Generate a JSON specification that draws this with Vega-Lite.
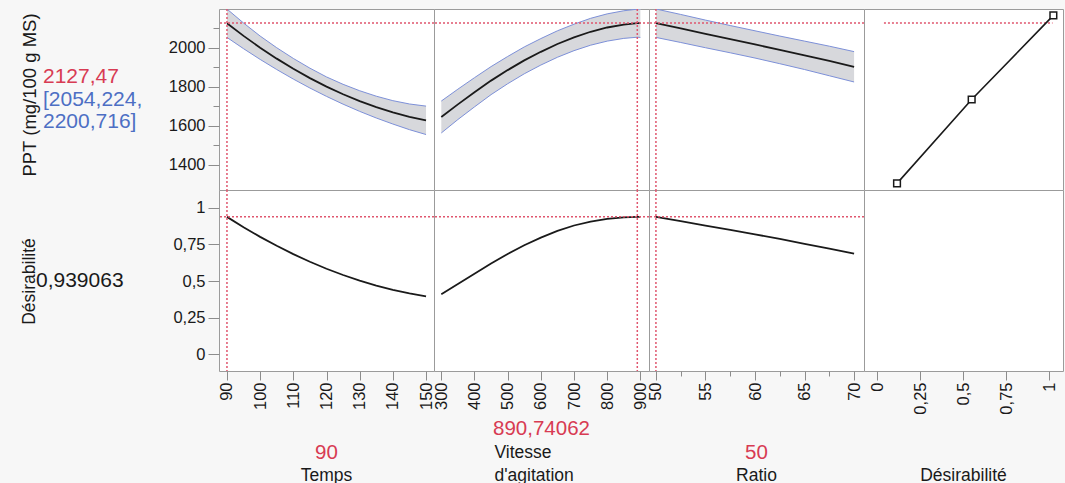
{
"$schema": "https://vega.github.io/schema/vega-lite/v6.json",
"background": "#f7f7f7",
"padding": {"left": 19, "top": 7, "right": 3, "bottom": 0},
"config": {
  "font": "Liberation Sans",
  "view": {"stroke": null},
  "axis": {"labelFont": "Liberation Sans", "labelFontSize": 16.5, "labelColor": "#1a1a1a", "tickColor": "#8c8c8c", "domain": false, "grid": false, "titleFont": "Liberation Sans", "titleFontWeight": "normal", "titleFontSize": 17.5, "titleColor": "#1a1a1a"},
  "axisX": {"labelAngle": 270, "tickSize": 9, "labelPadding": 2},
  "axisY": {"tickSize": 11, "labelPadding": 3}
},
"datasets": {
  "temps": [
    {"x":90,"ppt":2127,"lo":2054,"hi":2200,"d":0.939},
    {"x":95,"ppt":2062,"lo":1996,"hi":2128,"d":0.868},
    {"x":100,"ppt":2001,"lo":1941,"hi":2061,"d":0.802},
    {"x":105,"ppt":1945,"lo":1889,"hi":2001,"d":0.741},
    {"x":110,"ppt":1893,"lo":1840,"hi":1946,"d":0.684},
    {"x":115,"ppt":1845,"lo":1794,"hi":1896,"d":0.632},
    {"x":120,"ppt":1801,"lo":1751,"hi":1851,"d":0.584},
    {"x":125,"ppt":1762,"lo":1711,"hi":1813,"d":0.541},
    {"x":130,"ppt":1727,"lo":1674,"hi":1780,"d":0.503},
    {"x":135,"ppt":1696,"lo":1640,"hi":1752,"d":0.469},
    {"x":140,"ppt":1669,"lo":1609,"hi":1729,"d":0.44},
    {"x":145,"ppt":1646,"lo":1580,"hi":1712,"d":0.415},
    {"x":150,"ppt":1628,"lo":1555,"hi":1701,"d":0.395}
  ],
  "vitesse": [
    {"x":300,"ppt":1645,"lo":1563,"hi":1727,"d":0.41},
    {"x":350,"ppt":1710,"lo":1632,"hi":1788,"d":0.48},
    {"x":400,"ppt":1772,"lo":1697,"hi":1847,"d":0.55},
    {"x":450,"ppt":1832,"lo":1760,"hi":1904,"d":0.62},
    {"x":500,"ppt":1886,"lo":1816,"hi":1956,"d":0.685},
    {"x":550,"ppt":1936,"lo":1867,"hi":2005,"d":0.745},
    {"x":600,"ppt":1980,"lo":1912,"hi":2048,"d":0.797},
    {"x":650,"ppt":2020,"lo":1952,"hi":2088,"d":0.843},
    {"x":700,"ppt":2054,"lo":1986,"hi":2122,"d":0.88},
    {"x":750,"ppt":2083,"lo":2014,"hi":2152,"d":0.907},
    {"x":800,"ppt":2105,"lo":2035,"hi":2175,"d":0.926},
    {"x":850,"ppt":2120,"lo":2049,"hi":2191,"d":0.936},
    {"x":890.74,"ppt":2127,"lo":2055,"hi":2199,"d":0.939},
    {"x":900,"ppt":2127,"lo":2054,"hi":2200,"d":0.939}
  ],
  "ratio": [
    {"x":50,"ppt":2127,"lo":2054,"hi":2200,"d":0.939},
    {"x":52.5,"ppt":2100,"lo":2028,"hi":2172,"d":0.91},
    {"x":55,"ppt":2072,"lo":2001,"hi":2143,"d":0.879},
    {"x":57.5,"ppt":2045,"lo":1975,"hi":2115,"d":0.85},
    {"x":60,"ppt":2018,"lo":1948,"hi":2088,"d":0.82},
    {"x":62.5,"ppt":1990,"lo":1919,"hi":2061,"d":0.788},
    {"x":65,"ppt":1962,"lo":1889,"hi":2035,"d":0.755},
    {"x":67.5,"ppt":1933,"lo":1857,"hi":2009,"d":0.722},
    {"x":70,"ppt":1903,"lo":1825,"hi":1981,"d":0.688}
  ],
  "desir": [
    {"d":0.116,"ppt":1304},
    {"d":0.55,"ppt":1735},
    {"d":1.025,"ppt":2167}
  ],
  "lefttop": [
    {"line":"l1","text":"2127,47","kind":"value"},
    {"line":"l2","text":"[2054,224,","kind":"ci"},
    {"line":"l3","text":"2200,716]","kind":"ci"}
  ],
  "leftbottom": [
    {"line":"l1","text":"0,939063","kind":"label"}
  ],
  "btxt": [
    {"col":"c1","line":"r1","text":"90","kind":"value"},
    {"col":"c1","line":"r0","text":"Temps","kind":"label"},
    {"col":"c2","line":"r2","text":"890,74062","kind":"value"},
    {"col":"c2","line":"r1","text":"Vitesse","kind":"label"},
    {"col":"c2","line":"r0","text":"d'agitation","kind":"label"},
    {"col":"c3","line":"r1","text":"50","kind":"value"},
    {"col":"c3","line":"r0","text":"Ratio","kind":"label"},
    {"col":"c4","line":"r0","text":"Désirabilité","kind":"label"}
  ]
},
"bounds": "flush",
"align": "each",
"spacing": 0,
"columns": 5,
"concat": [
  {
    "width": 183, "height": 181,
    "data": {"name": "lefttop"},
    "mark": {"type": "text", "align": "left", "baseline": "middle", "fontSize": 21, "dx": 7},
    "encoding": {
      "x": {"datum": 0, "type": "quantitative", "scale": {"domain": [0, 1]}, "axis": null},
      "y": {"field": "line", "type": "ordinal", "scale": {"type": "point", "domain": ["a","b","l1","l2","l3","c","d"], "padding": 1}, "axis": null},
      "text": {"field": "text"},
      "color": {"field": "kind", "type": "nominal", "scale": {"domain": ["value","ci","label"], "range": ["#d83b53","#4d6fc4","#1a1a1a"]}, "legend": null}
    }
  },
  {
    "width": 215, "height": 181,
    "view": {"fill": "white", "stroke": "#9b9b9b"},
    "layer": [
      {"data": {"name": "temps"}, "mark": {"type": "area", "color": "#d7d8dc", "opacity": 1, "clip": true},
       "encoding": {
         "x": {"field": "x", "type": "quantitative", "scale": {"domain": [87.6, 152.4], "nice": false, "zero": false}, "axis": null},
         "y": {"field": "lo", "type": "quantitative", "scale": {"domain": [1270, 2200], "nice": false, "zero": false},
               "axis": {"values": [1400,1500,1600,1700,1800,1900,2000,2100], "format": "d", "labelExpr": "datum.value % 200 === 0 ? datum.label : ''", "tickSize": {"condition": {"test": "datum.value % 200 !== 0", "value": 6}, "value": 11}, "title": "PPT (mg/100 g MS)", "titleFontSize": 18.5, "titleX": -190, "titleY": 85.5, "titleAngle": 270, "titleAlign": "center", "titleBaseline": "middle"}},
         "y2": {"field": "hi"}}},
      {"data": {"name": "temps"}, "mark": {"type": "line", "color": "#7d90d8", "strokeWidth": 1, "clip": true},
       "encoding": {"x": {"field": "x", "type": "quantitative", "axis": null},
         "y": {"field": "lo", "type": "quantitative", "axis": {"values": [1400,1500,1600,1700,1800,1900,2000,2100], "format": "d", "labelExpr": "datum.value % 200 === 0 ? datum.label : ''", "tickSize": {"condition": {"test": "datum.value % 200 !== 0", "value": 6}, "value": 11}, "title": "PPT (mg/100 g MS)", "titleFontSize": 18.5, "titleX": -190, "titleY": 85.5, "titleAngle": 270, "titleAlign": "center", "titleBaseline": "middle"}}}},
      {"data": {"name": "temps"}, "mark": {"type": "line", "color": "#7d90d8", "strokeWidth": 1, "clip": true},
       "encoding": {"x": {"field": "x", "type": "quantitative", "axis": null},
         "y": {"field": "hi", "type": "quantitative", "axis": {"values": [1400,1500,1600,1700,1800,1900,2000,2100], "format": "d", "labelExpr": "datum.value % 200 === 0 ? datum.label : ''", "tickSize": {"condition": {"test": "datum.value % 200 !== 0", "value": 6}, "value": 11}, "title": "PPT (mg/100 g MS)", "titleFontSize": 18.5, "titleX": -190, "titleY": 85.5, "titleAngle": 270, "titleAlign": "center", "titleBaseline": "middle"}}}},
      {"data": {"name": "temps"}, "mark": {"type": "line", "color": "#1a1a1a", "strokeWidth": 1.8, "clip": true},
       "encoding": {"x": {"field": "x", "type": "quantitative", "axis": null},
         "y": {"field": "ppt", "type": "quantitative", "axis": {"values": [1400,1500,1600,1700,1800,1900,2000,2100], "format": "d", "labelExpr": "datum.value % 200 === 0 ? datum.label : ''", "tickSize": {"condition": {"test": "datum.value % 200 !== 0", "value": 6}, "value": 11}, "title": "PPT (mg/100 g MS)", "titleFontSize": 18.5, "titleX": -190, "titleY": 85.5, "titleAngle": 270, "titleAlign": "center", "titleBaseline": "middle"}}}},
      {"data": {"values": [{}]}, "mark": {"type": "rule", "color": "#e0566e", "strokeDash": [2, 2], "strokeWidth": 1.5},
       "encoding": {"y": {"datum": 2127.47, "type": "quantitative", "axis": {"values": [1400,1500,1600,1700,1800,1900,2000,2100], "format": "d", "labelExpr": "datum.value % 200 === 0 ? datum.label : ''", "tickSize": {"condition": {"test": "datum.value % 200 !== 0", "value": 6}, "value": 11}, "title": "PPT (mg/100 g MS)", "titleFontSize": 18.5, "titleX": -190, "titleY": 85.5, "titleAngle": 270, "titleAlign": "center", "titleBaseline": "middle"}}}},
      {"data": {"values": [{}]}, "mark": {"type": "rule", "color": "#e0566e", "strokeDash": [2, 2], "strokeWidth": 1.5},
       "encoding": {"x": {"datum": 90, "type": "quantitative", "axis": null}}}
    ]
  },
  {
    "width": 215, "height": 181,
    "view": {"fill": "white", "stroke": "#9b9b9b"},
    "layer": [
      {"data": {"name": "vitesse"}, "mark": {"type": "area", "color": "#d7d8dc", "opacity": 1, "clip": true},
       "encoding": {
         "x": {"field": "x", "type": "quantitative", "scale": {"domain": [278, 926], "nice": false, "zero": false}, "axis": null},
         "y": {"field": "lo", "type": "quantitative", "scale": {"domain": [1270, 2200], "nice": false, "zero": false}, "axis": null},
         "y2": {"field": "hi"}}},
      {"data": {"name": "vitesse"}, "mark": {"type": "line", "color": "#7d90d8", "strokeWidth": 1, "clip": true},
       "encoding": {"x": {"field": "x", "type": "quantitative", "axis": null}, "y": {"field": "lo", "type": "quantitative", "axis": null}}},
      {"data": {"name": "vitesse"}, "mark": {"type": "line", "color": "#7d90d8", "strokeWidth": 1, "clip": true},
       "encoding": {"x": {"field": "x", "type": "quantitative", "axis": null}, "y": {"field": "hi", "type": "quantitative", "axis": null}}},
      {"data": {"name": "vitesse"}, "mark": {"type": "line", "color": "#1a1a1a", "strokeWidth": 1.8, "clip": true},
       "encoding": {"x": {"field": "x", "type": "quantitative", "axis": null}, "y": {"field": "ppt", "type": "quantitative", "axis": null}}},
      {"data": {"values": [{}]}, "mark": {"type": "rule", "color": "#e0566e", "strokeDash": [2, 2], "strokeWidth": 1.5},
       "encoding": {"y": {"datum": 2127.47, "type": "quantitative", "axis": null}}},
      {"data": {"values": [{}]}, "mark": {"type": "rule", "color": "#e0566e", "strokeDash": [2, 2], "strokeWidth": 1.5},
       "encoding": {"x": {"datum": 890.74062, "type": "quantitative", "axis": null}}}
    ]
  },
  {
    "width": 215, "height": 181,
    "view": {"fill": "white", "stroke": "#9b9b9b"},
    "layer": [
      {"data": {"name": "ratio"}, "mark": {"type": "area", "color": "#d7d8dc", "opacity": 1, "clip": true},
       "encoding": {
         "x": {"field": "x", "type": "quantitative", "scale": {"domain": [49.3, 71.0], "nice": false, "zero": false}, "axis": null},
         "y": {"field": "lo", "type": "quantitative", "scale": {"domain": [1270, 2200], "nice": false, "zero": false}, "axis": null},
         "y2": {"field": "hi"}}},
      {"data": {"name": "ratio"}, "mark": {"type": "line", "color": "#7d90d8", "strokeWidth": 1, "clip": true},
       "encoding": {"x": {"field": "x", "type": "quantitative", "axis": null}, "y": {"field": "lo", "type": "quantitative", "axis": null}}},
      {"data": {"name": "ratio"}, "mark": {"type": "line", "color": "#7d90d8", "strokeWidth": 1, "clip": true},
       "encoding": {"x": {"field": "x", "type": "quantitative", "axis": null}, "y": {"field": "hi", "type": "quantitative", "axis": null}}},
      {"data": {"name": "ratio"}, "mark": {"type": "line", "color": "#1a1a1a", "strokeWidth": 1.8, "clip": true},
       "encoding": {"x": {"field": "x", "type": "quantitative", "axis": null}, "y": {"field": "ppt", "type": "quantitative", "axis": null}}},
      {"data": {"values": [{}]}, "mark": {"type": "rule", "color": "#e0566e", "strokeDash": [2, 2], "strokeWidth": 1.5},
       "encoding": {"y": {"datum": 2127.47, "type": "quantitative", "axis": null}}},
      {"data": {"values": [{}]}, "mark": {"type": "rule", "color": "#e0566e", "strokeDash": [2, 2], "strokeWidth": 1.5},
       "encoding": {"x": {"datum": 50, "type": "quantitative", "axis": null}}}
    ]
  },
  {
    "width": 199, "height": 181,
    "view": {"fill": "white", "stroke": "#9b9b9b"},
    "layer": [
      {"data": {"values": [{}]}, "mark": {"type": "rule", "color": "#e0566e", "strokeDash": [2, 2], "strokeWidth": 1.5},
       "encoding": {
         "x": {"datum": 0.04, "type": "quantitative", "scale": {"domain": [-0.076, 1.081], "nice": false, "zero": false}, "axis": null},
         "x2": {"datum": 1.02},
         "y": {"datum": 2127.47, "type": "quantitative", "scale": {"domain": [1270, 2200], "nice": false, "zero": false}, "axis": null}}},
      {"data": {"name": "desir"}, "mark": {"type": "line", "color": "#1a1a1a", "strokeWidth": 1.6},
       "encoding": {"x": {"field": "d", "type": "quantitative", "axis": null}, "y": {"field": "ppt", "type": "quantitative", "axis": null}}},
      {"data": {"name": "desir"}, "mark": {"type": "point", "shape": "square", "filled": true, "fill": "white", "stroke": "#1a1a1a", "strokeWidth": 1.5, "size": 45, "opacity": 1},
       "encoding": {"x": {"field": "d", "type": "quantitative", "axis": null}, "y": {"field": "ppt", "type": "quantitative", "axis": null}}}
    ]
  },
  {
    "width": 183, "height": 181,
    "data": {"name": "leftbottom"},
    "mark": {"type": "text", "align": "left", "baseline": "middle", "fontSize": 21},
    "encoding": {
      "x": {"datum": 0, "type": "quantitative", "scale": {"domain": [0, 1]}, "axis": null},
      "text": {"field": "text"},
      "color": {"field": "kind", "type": "nominal", "scale": {"domain": ["value","ci","label"], "range": ["#d83b53","#4d6fc4","#1a1a1a"]}, "legend": null}
    }
  },
  {
    "width": 215, "height": 181,
    "view": {"fill": "white", "stroke": "#9b9b9b"},
    "layer": [
      {"data": {"name": "temps"}, "mark": {"type": "line", "color": "#1a1a1a", "strokeWidth": 1.8, "clip": true},
       "encoding": {
         "x": {"field": "x", "type": "quantitative", "scale": {"domain": [87.6, 152.4], "nice": false, "zero": false}, "axis": {"values": [90,100,110,120,130,140,150], "format": "d", "title": null}},
         "y": {"field": "d", "type": "quantitative", "scale": {"domain": [-0.116, 1.123], "nice": false, "zero": false},
               "axis": {"values": [0,0.25,0.5,0.75,1], "labelExpr": "replace(format(datum.value, '~g'), '.', ',')", "title": "Désirabilité", "titleX": -190, "titleY": 91, "titleAngle": 270, "titleAlign": "center", "titleBaseline": "middle"}}}},
      {"data": {"values": [{}]}, "mark": {"type": "rule", "color": "#e0566e", "strokeDash": [2, 2], "strokeWidth": 1.5},
       "encoding": {"y": {"datum": 0.939063, "type": "quantitative", "axis": {"values": [0,0.25,0.5,0.75,1], "labelExpr": "replace(format(datum.value, '~g'), '.', ',')", "title": "Désirabilité", "titleX": -190, "titleY": 91, "titleAngle": 270, "titleAlign": "center", "titleBaseline": "middle"}}}},
      {"data": {"values": [{}]}, "mark": {"type": "rule", "color": "#e0566e", "strokeDash": [2, 2], "strokeWidth": 1.5},
       "encoding": {"x": {"datum": 90, "type": "quantitative", "axis": {"values": [90,100,110,120,130,140,150], "format": "d", "title": null}}}}
    ]
  },
  {
    "width": 215, "height": 181,
    "view": {"fill": "white", "stroke": "#9b9b9b"},
    "layer": [
      {"data": {"name": "vitesse"}, "mark": {"type": "line", "color": "#1a1a1a", "strokeWidth": 1.8, "clip": true},
       "encoding": {
         "x": {"field": "x", "type": "quantitative", "scale": {"domain": [278, 926], "nice": false, "zero": false}, "axis": {"values": [300,400,500,600,700,800,900], "format": "d", "title": null}},
         "y": {"field": "d", "type": "quantitative", "scale": {"domain": [-0.116, 1.123], "nice": false, "zero": false}, "axis": null}}},
      {"data": {"values": [{}]}, "mark": {"type": "rule", "color": "#e0566e", "strokeDash": [2, 2], "strokeWidth": 1.5},
       "encoding": {"y": {"datum": 0.939063, "type": "quantitative", "axis": null}}},
      {"data": {"values": [{}]}, "mark": {"type": "rule", "color": "#e0566e", "strokeDash": [2, 2], "strokeWidth": 1.5},
       "encoding": {"x": {"datum": 890.74062, "type": "quantitative", "axis": {"values": [300,400,500,600,700,800,900], "format": "d", "title": null}}}}
    ]
  },
  {
    "width": 215, "height": 181,
    "view": {"fill": "white", "stroke": "#9b9b9b"},
    "layer": [
      {"data": {"name": "ratio"}, "mark": {"type": "line", "color": "#1a1a1a", "strokeWidth": 1.8, "clip": true},
       "encoding": {
         "x": {"field": "x", "type": "quantitative", "scale": {"domain": [49.3, 71.0], "nice": false, "zero": false}, "axis": {"values": [50,52.5,55,57.5,60,62.5,65,67.5,70], "format": "d", "labelExpr": "datum.value % 5 === 0 ? datum.label : ''", "tickSize": {"condition": {"test": "datum.value % 5 !== 0", "value": 5}, "value": 9}, "title": null}},
         "y": {"field": "d", "type": "quantitative", "scale": {"domain": [-0.116, 1.123], "nice": false, "zero": false}, "axis": null}}},
      {"data": {"values": [{}]}, "mark": {"type": "rule", "color": "#e0566e", "strokeDash": [2, 2], "strokeWidth": 1.5},
       "encoding": {"y": {"datum": 0.939063, "type": "quantitative", "axis": null}}},
      {"data": {"values": [{}]}, "mark": {"type": "rule", "color": "#e0566e", "strokeDash": [2, 2], "strokeWidth": 1.5},
       "encoding": {"x": {"datum": 50, "type": "quantitative", "axis": {"values": [50,52.5,55,57.5,60,62.5,65,67.5,70], "format": "d", "labelExpr": "datum.value % 5 === 0 ? datum.label : ''", "tickSize": {"condition": {"test": "datum.value % 5 !== 0", "value": 5}, "value": 9}, "title": null}}}}
    ]
  },
  {
    "width": 199, "height": 181,
    "view": {"fill": "white", "stroke": "#9b9b9b"},
    "data": {"name": "desir"},
    "mark": {"type": "point", "opacity": 0},
    "encoding": {
      "x": {"field": "d", "type": "quantitative", "scale": {"domain": [-0.076, 1.081], "nice": false, "zero": false}, "axis": {"values": [0,0.25,0.5,0.75,1], "labelExpr": "replace(format(datum.value, '~g'), '.', ',')", "title": null}},
      "y": {"datum": 0.5, "type": "quantitative", "scale": {"domain": [-0.116, 1.123], "nice": false, "zero": false}, "axis": null}
    }
  },
  {
    "width": 183, "height": 116.5,
    "data": {"values": [{}]},
    "mark": {"type": "text", "text": ""},
    "encoding": {}
  },
  {
    "width": 215, "height": 116.5,
    "data": {"name": "btxt"},
    "transform": [{"filter": "datum.col === 'c1'"}],
    "mark": {"type": "text", "baseline": "middle", "align": "center"},
    "encoding": {
      "y": {"field": "line", "type": "ordinal", "scale": {"type": "point", "domain": ["s1","s2","r2","r1","r0"], "padding": 0.5}, "axis": null},
      "text": {"field": "text"},
      "color": {"field": "kind", "type": "nominal", "scale": {"domain": ["value","ci","label"], "range": ["#d83b53","#4d6fc4","#1a1a1a"]}, "legend": null},
      "size": {"field": "kind", "type": "nominal", "scale": {"domain": ["value","label"], "range": [20.5, 17.5]}, "legend": null}
    }
  },
  {
    "width": 215, "height": 116.5,
    "data": {"name": "btxt"},
    "transform": [{"filter": "datum.col === 'c2'"}],
    "layer": [
      {
        "transform": [{"filter": "datum.kind === 'value'"}],
        "mark": {"type": "text", "baseline": "middle", "align": "center"},
        "encoding": {
          "y": {"field": "line", "type": "ordinal", "scale": {"type": "point", "domain": ["s1","s2","r2","r1","r0"], "padding": 0.5}, "axis": null},
          "text": {"field": "text"},
          "color": {"field": "kind", "type": "nominal", "scale": {"domain": ["value","ci","label"], "range": ["#d83b53","#4d6fc4","#1a1a1a"]}, "legend": null},
          "size": {"field": "kind", "type": "nominal", "scale": {"domain": ["value","label"], "range": [20.5, 17.5]}, "legend": null}
        }
      },
      {
        "transform": [{"filter": "datum.kind === 'label'"}],
        "mark": {"type": "text", "baseline": "middle", "align": "left", "dx": -47},
        "encoding": {
          "y": {"field": "line", "type": "ordinal", "axis": null},
          "text": {"field": "text"},
          "color": {"field": "kind", "type": "nominal", "legend": null},
          "size": {"field": "kind", "type": "nominal", "legend": null}
        }
      }
    ]
  },
  {
    "width": 215, "height": 116.5,
    "data": {"name": "btxt"},
    "transform": [{"filter": "datum.col === 'c3'"}],
    "mark": {"type": "text", "baseline": "middle", "align": "center"},
    "encoding": {
      "y": {"field": "line", "type": "ordinal", "scale": {"type": "point", "domain": ["s1","s2","r2","r1","r0"], "padding": 0.5}, "axis": null},
      "text": {"field": "text"},
      "color": {"field": "kind", "type": "nominal", "scale": {"domain": ["value","ci","label"], "range": ["#d83b53","#4d6fc4","#1a1a1a"]}, "legend": null},
      "size": {"field": "kind", "type": "nominal", "scale": {"domain": ["value","label"], "range": [20.5, 17.5]}, "legend": null}
    }
  },
  {
    "width": 199, "height": 116.5,
    "data": {"name": "btxt"},
    "transform": [{"filter": "datum.col === 'c4'"}],
    "mark": {"type": "text", "baseline": "middle", "align": "center"},
    "encoding": {
      "y": {"field": "line", "type": "ordinal", "scale": {"type": "point", "domain": ["s1","s2","r2","r1","r0"], "padding": 0.5}, "axis": null},
      "text": {"field": "text"},
      "color": {"field": "kind", "type": "nominal", "scale": {"domain": ["value","ci","label"], "range": ["#d83b53","#4d6fc4","#1a1a1a"]}, "legend": null},
      "size": {"field": "kind", "type": "nominal", "scale": {"domain": ["value","label"], "range": [20.5, 17.5]}, "legend": null}
    }
  }
]
}
